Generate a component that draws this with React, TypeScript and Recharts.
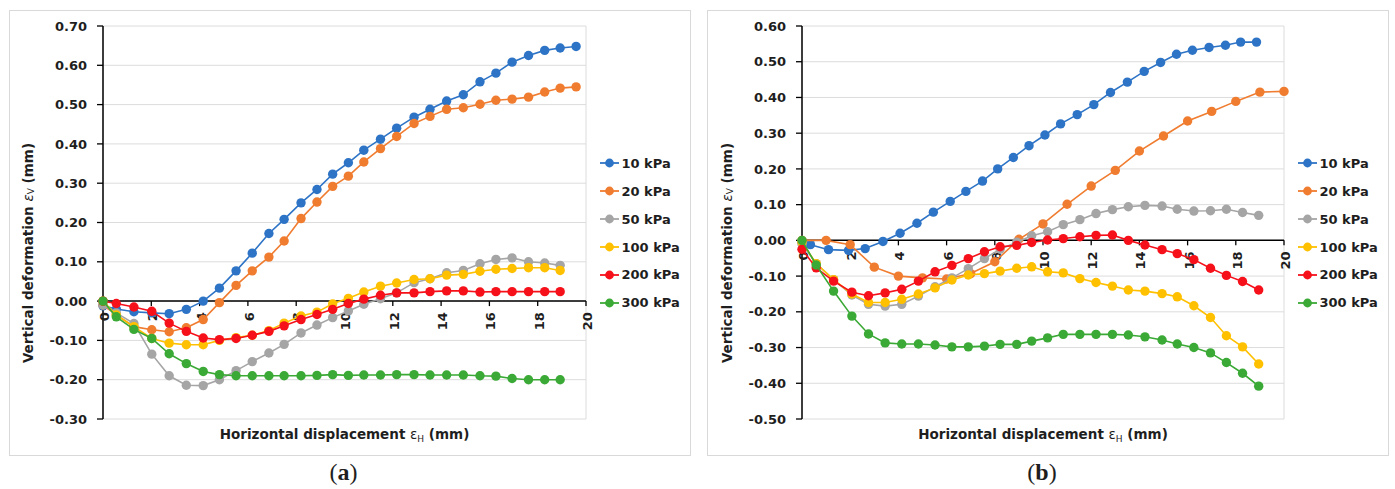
import React from 'react';
import {
  ScatterChart, Scatter, XAxis, YAxis, CartesianGrid, ReferenceLine, ReferenceDot, Legend,
} from 'recharts';

// ---------- data ----------
const SERIES_NAMES = ['10 kPa', '20 kPa', '50 kPa', '100 kPa', '200 kPa', '300 kPa'];
const SERIES_COLORS = ['#2E74C6', '#F07C30', '#A5A5A5', '#FFC000', '#F5101A', '#3AA935'];
const X_TICKS = [0, 2, 4, 6, 8, 10, 12, 14, 16, 18, 20];
const Y_TICKS_A = [-0.3, -0.2, -0.1, 0, 0.1, 0.2, 0.3, 0.4, 0.5, 0.6, 0.7];
const Y_TICKS_B = [-0.5, -0.4, -0.3, -0.2, -0.1, 0, 0.1, 0.2, 0.3, 0.4, 0.5, 0.6];

// chart (a)
const X_GRID_A = [0, 0.55, 1.28, 2.02, 2.74, 3.45, 4.15, 4.82, 5.51, 6.18, 6.87, 7.5, 8.2, 8.86, 9.51, 10.16, 10.8, 11.49, 12.16, 12.88, 13.54, 14.23, 14.92, 15.61, 16.27, 16.94, 17.62, 18.29, 18.93, 19.59];
const BLUE_A = [-0.012, -0.02, -0.027, -0.03, -0.032, -0.021, 0.0, 0.033, 0.077, 0.122, 0.172, 0.208, 0.25, 0.284, 0.323, 0.352, 0.384, 0.412, 0.44, 0.468, 0.488, 0.509, 0.525, 0.558, 0.58, 0.608, 0.625, 0.638, 0.644, 0.648];
const ORANGE_A = [-0.01, -0.035, -0.065, -0.073, -0.078, -0.068, -0.047, -0.004, 0.04, 0.077, 0.112, 0.153, 0.21, 0.252, 0.292, 0.318, 0.354, 0.388, 0.419, 0.452, 0.47, 0.488, 0.492, 0.501, 0.511, 0.514, 0.519, 0.532, 0.542, 0.545];
const GRAY_A = [-0.01, -0.03, -0.057, -0.135, -0.19, -0.214, -0.215, -0.2, -0.177, -0.154, -0.132, -0.11, -0.081, -0.061, -0.042, -0.025, -0.008, 0.006, 0.021, 0.047, 0.057, 0.072, 0.078, 0.095, 0.106, 0.11, 0.1, 0.097, 0.091];
const YELLOW_A = [0, -0.035, -0.065, -0.095, -0.107, -0.111, -0.111, -0.1, -0.093, -0.087, -0.075, -0.056, -0.038, -0.028, -0.007, 0.007, 0.023, 0.038, 0.046, 0.055, 0.057, 0.066, 0.068, 0.076, 0.081, 0.083, 0.085, 0.085, 0.078];
const RED_A = [0, -0.006, -0.015, -0.026, -0.056, -0.077, -0.094, -0.098, -0.095, -0.087, -0.077, -0.063, -0.047, -0.034, -0.021, -0.006, 0.005, 0.015, 0.021, 0.021, 0.024, 0.026, 0.026, 0.023, 0.024, 0.024, 0.024, 0.024, 0.024];
const GREEN_A = [0, -0.04, -0.072, -0.095, -0.134, -0.159, -0.179, -0.187, -0.19, -0.19, -0.19, -0.19, -0.19, -0.189, -0.187, -0.189, -0.188, -0.188, -0.187, -0.187, -0.188, -0.188, -0.188, -0.19, -0.191, -0.197, -0.2, -0.2, -0.2];

// chart (b)
const X_GRID_B = [0, 0.59, 1.31, 2.07, 2.76, 3.45, 4.14, 4.83, 5.52, 6.22, 6.9, 7.57, 8.22, 8.91, 9.53, 10.19, 10.84, 11.53, 12.2, 12.88, 13.54, 14.23, 14.94, 15.57, 16.26, 16.95, 17.61, 18.28, 18.95];
const X_BLUE_B = [0, 0.35, 1.1, 1.93, 2.62, 3.36, 4.07, 4.77, 5.45, 6.15, 6.8, 7.49, 8.12, 8.77, 9.42, 10.08, 10.73, 11.42, 12.11, 12.8, 13.5, 14.2, 14.88, 15.54, 16.2, 16.89, 17.57, 18.2, 18.86];
const X_ORANGE_B = [0, 1, 2, 3, 4, 5, 6, 7, 8, 9, 10, 11, 12, 13, 14, 15, 16, 17, 18, 19, 20];
const BLUE_B = [-0.005, -0.012, -0.026, -0.028, -0.023, -0.003, 0.02, 0.048, 0.079, 0.109, 0.137, 0.166, 0.2, 0.232, 0.265, 0.295, 0.326, 0.352, 0.38, 0.414, 0.443, 0.473, 0.498, 0.521, 0.532, 0.54, 0.546, 0.555, 0.555];
const ORANGE_B = [0, 0, -0.012, -0.075, -0.1, -0.105, -0.108, -0.093, -0.06, 0.003, 0.046, 0.101, 0.152, 0.196, 0.25, 0.292, 0.334, 0.361, 0.389, 0.415, 0.417];
const GRAY_B = [-0.01, -0.065, -0.11, -0.153, -0.179, -0.184, -0.179, -0.156, -0.13, -0.105, -0.079, -0.051, -0.025, -0.005, 0.013, 0.024, 0.044, 0.058, 0.075, 0.086, 0.094, 0.098, 0.096, 0.087, 0.082, 0.083, 0.087, 0.078, 0.07];
const YELLOW_B = [-0.005, -0.065, -0.11, -0.15, -0.174, -0.174, -0.165, -0.15, -0.133, -0.111, -0.097, -0.093, -0.086, -0.078, -0.074, -0.088, -0.091, -0.107, -0.118, -0.128, -0.139, -0.142, -0.149, -0.158, -0.183, -0.216, -0.267, -0.298, -0.346];
const RED_B = [-0.025, -0.077, -0.114, -0.145, -0.155, -0.147, -0.137, -0.114, -0.088, -0.07, -0.051, -0.032, -0.018, -0.014, -0.006, 0.001, 0.005, 0.01, 0.014, 0.015, 0.0, -0.013, -0.026, -0.037, -0.054, -0.078, -0.098, -0.115, -0.139];
const GREEN_B = [0, -0.069, -0.142, -0.212, -0.262, -0.287, -0.29, -0.29, -0.293, -0.298, -0.298, -0.296, -0.291, -0.291, -0.282, -0.273, -0.263, -0.263, -0.263, -0.263, -0.265, -0.27, -0.279, -0.29, -0.3, -0.315, -0.342, -0.372, -0.408];

const zip = (xs: number[], ys: number[]) => ys.map((y, i) => ({ x: xs[i], y }));

const SERIES_A = [
  zip(X_GRID_A, BLUE_A), zip(X_GRID_A, ORANGE_A), zip(X_GRID_A, GRAY_A),
  zip(X_GRID_A, YELLOW_A), zip(X_GRID_A, RED_A), zip(X_GRID_A, GREEN_A),
];
const SERIES_B = [
  zip(X_BLUE_B, BLUE_B), zip(X_ORANGE_B, ORANGE_B), zip(X_GRID_B, GRAY_B),
  zip(X_GRID_B, YELLOW_B), zip(X_GRID_B, RED_B), zip(X_GRID_B, GREEN_B),
];

// ---------- styling ----------
const FONT = '"DejaVu Sans", Verdana, sans-serif';
const TXT = '#1e1e1e';
const GRID = '#dcdcdc';

const LegendContent = (props: any) => {
  const payload = [...(props.payload || [])].sort(
    (a: any, b: any) => SERIES_NAMES.indexOf(a.value) - SERIES_NAMES.indexOf(b.value),
  );
  return (
    <div style={{ display: 'flex', flexDirection: 'column' }}>
      {payload.map((e: any) => (
        <div key={e.value} style={{ height: 27.9, display: 'flex', alignItems: 'center' }}>
          <svg width={20} height={12} style={{ display: 'block' }}>
            <line x1={0} y1={6} x2={19} y2={6} stroke={e.color} strokeWidth={1.8} />
            <circle cx={9.5} cy={6} r={4.4} fill={e.color} />
          </svg>
          <span style={{ marginLeft: 1.5, fontFamily: FONT, fontWeight: 700, fontSize: 13, color: TXT, whiteSpace: 'nowrap' }}>
            {e.value}
          </span>
        </div>
      ))}
    </div>
  );
};

const makeXTick = (v: number) => (p: any) => {
  const cx = p.cx;
  const cy = p.cy;
  const ty = cy + 11;
  return (
    <g>
      <line x1={cx} y1={cy} x2={cx} y2={cy + 5} stroke="#000" strokeWidth={1.3} />
      <text
        x={cx}
        y={ty}
        dy={1.5}
        transform={`rotate(-90 ${cx} ${ty})`}
        textAnchor="end"
        dominantBaseline="central"
        fontFamily={FONT}
        fontWeight={700}
        fontSize={13}
        fill={TXT}
      >
        {v}
      </text>
    </g>
  );
};

const dotShape = (color: string) => (p: any) => (
  <circle cx={p.cx} cy={p.cy} r={4.7} fill={color} />
);

type PanelProps = {
  series: { x: number; y: number }[][];
  yTicks: number[];
  width: number;
  margin: { top: number; right: number; bottom: number; left: number };
  legendLeft: number;
};

const Panel = ({ series, yTicks, width, margin, legendLeft }: PanelProps) => (
  <ScatterChart width={width} height={489} margin={margin}>
    <CartesianGrid stroke={GRID} strokeWidth={1} />
    <XAxis
      type="number"
      dataKey="x"
      domain={[0, 20]}
      ticks={X_TICKS}
      height={0}
      tick={false}
      axisLine={false}
      tickLine={false}
    />
    <YAxis
      type="number"
      dataKey="y"
      domain={[yTicks[0], yTicks[yTicks.length - 1]]}
      ticks={yTicks}
      interval={0}
      width={80}
      tickFormatter={(v: number) => v.toFixed(2)}
      axisLine={{ stroke: '#000', strokeWidth: 1.5 }}
      tickLine={{ stroke: '#000', strokeWidth: 1.3 }}
      tickSize={6}
      tickMargin={10}
      tick={{ fill: TXT, fontSize: 13, fontWeight: 700, fontFamily: FONT }}
    />
    <ReferenceLine y={0} stroke="#000" strokeWidth={1.5} />
    {X_TICKS.map((v) => (
      <ReferenceDot key={v} x={v} y={0} r={1} shape={makeXTick(v)} />
    ))}
    {series.map((d, i) => (
      <Scatter
        key={SERIES_NAMES[i]}
        name={SERIES_NAMES[i]}
        data={d}
        fill={SERIES_COLORS[i]}
        line={{ stroke: SERIES_COLORS[i], strokeWidth: 1.6 }}
        shape={dotShape(SERIES_COLORS[i])}
        isAnimationActive={false}
      />
    ))}
    <Legend
      layout="vertical"
      align="center"
      verticalAlign="middle"
      content={<LegendContent />}
      wrapperStyle={{ left: legendLeft, top: 149.4, width: 95, height: 170 }}
    />
  </ScatterChart>
);

const Titles = ({ yx, xc, label }: { yx: number; xc: number; label: string }) => (
  <g fontFamily={FONT} fontWeight={700} fontSize={13.5} fill={TXT}>
    <text x={yx} y={253} transform={`rotate(-90 ${yx} 253)`} textAnchor="middle" dominantBaseline="central">
      Vertical deformation{' '}
      <tspan fontWeight={400} fontStyle="italic">ε</tspan>
      <tspan fontWeight={400} fontSize={9} dy={3}>V</tspan>
      <tspan dy={-3}> (mm)</tspan>
    </text>
    <text x={xc} y={439} textAnchor="middle">
      Horizontal displacement{' '}
      <tspan fontWeight={400}>ε</tspan>
      <tspan fontWeight={400} fontSize={9} dy={3}>H</tspan>
      <tspan dy={-3}> (mm)</tspan>
    </text>
    <text x={xc - 1} y={480} textAnchor="middle" fontFamily='"Liberation Serif", serif' fontWeight={400} fontSize={24}>
      (<tspan fontWeight={700}>{label}</tspan>)
    </text>
  </g>
);

export default function App() {
  return (
    <div style={{ position: 'absolute', left: 0, top: 0, width: 1395, height: 489, background: '#fff', overflow: 'hidden' }}>
      <div style={{ position: 'absolute', left: 9, top: 10, width: 680, height: 444, border: '1px solid #d9d9d9' }} />
      <div style={{ position: 'absolute', left: 707, top: 10, width: 680, height: 444, border: '1px solid #d9d9d9' }} />
      <div style={{ position: 'absolute', left: 0, top: 0 }}>
        <Panel
          series={SERIES_A}
          yTicks={Y_TICKS_A}
          width={700}
          margin={{ top: 26, right: 114, bottom: 70, left: 23 }}
          legendLeft={600}
        />
      </div>
      <div style={{ position: 'absolute', left: 700, top: 0 }}>
        <Panel
          series={SERIES_B}
          yTicks={Y_TICKS_B}
          width={695}
          margin={{ top: 26, right: 111, bottom: 70, left: 22 }}
          legendLeft={598}
        />
      </div>
      <svg width={1395} height={489} style={{ position: 'absolute', left: 0, top: 0, pointerEvents: 'none' }}>
        <Titles yx={28} xc={344.5} label="a" />
        <Titles yx={727} xc={1043} label="b" />
      </svg>
    </div>
  );
}
